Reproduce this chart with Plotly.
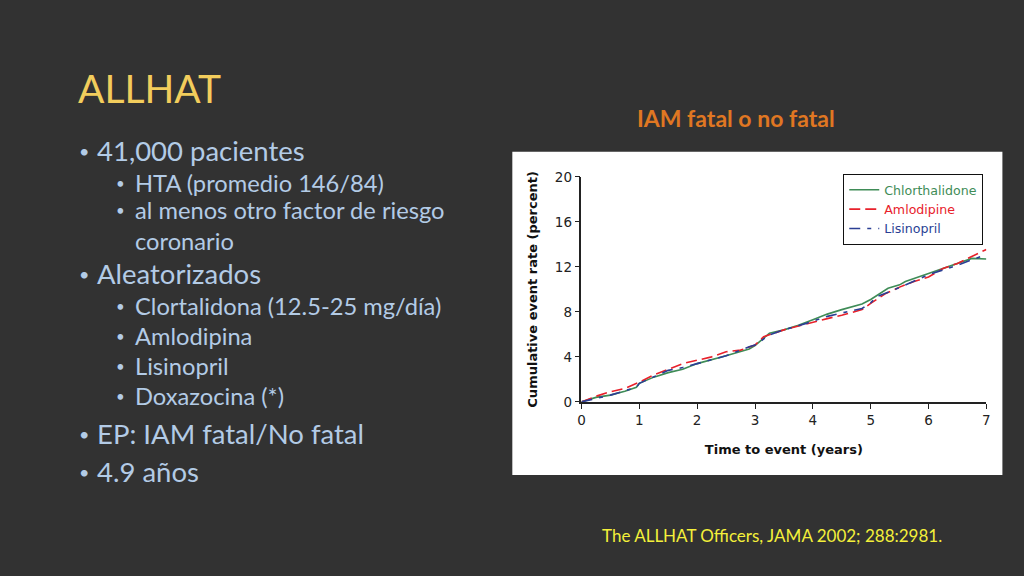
import plotly.graph_objects as go

# ---- data ----
chlor_t = [0, 0.25, 0.5, 0.75, 0.95, 1.0, 1.25, 1.5, 1.75, 2.0, 2.5, 2.9, 3.0, 3.25, 3.5, 3.75,
           4.0, 4.25, 4.5, 4.85, 5.0, 5.3, 5.5, 5.6, 6.0, 6.3, 6.5, 6.75, 7.0]
chlor_v = [0, 0.4, 0.6, 0.95, 1.3, 1.65, 2.2, 2.6, 2.9, 3.4, 4.1, 4.7, 5.0, 6.1, 6.4, 6.8,
           7.3, 7.8, 8.2, 8.7, 9.1, 10.1, 10.4, 10.7, 11.4, 11.95, 12.3, 12.75, 12.7]

amlo_t = [0, 0.25, 0.5, 0.75, 1.0, 1.25, 1.5, 1.75, 2.0, 2.25, 2.5, 2.75, 3.0, 3.15, 3.5,
          4.0, 4.25, 4.5, 4.85, 5.0, 5.25, 5.5, 5.75, 6.0, 6.25, 6.5, 6.75, 7.0]
amlo_v = [0, 0.5, 0.9, 1.2, 1.75, 2.4, 2.9, 3.4, 3.7, 4.0, 4.45, 4.6, 5.05, 5.8, 6.4,
          7.1, 7.4, 7.7, 8.2, 8.75, 9.6, 10.2, 10.7, 11.1, 11.85, 12.3, 12.95, 13.55]

lis_t = [0, 0.5, 0.95, 1.0, 1.5, 1.75, 2.0, 2.5, 2.9, 3.0, 3.25, 3.5, 3.9, 4.25, 4.5,
         4.85, 5.0, 5.1, 5.4, 5.75, 6.0, 6.5, 6.75, 7.0]
lis_v = [0, 0.6, 1.3, 1.65, 2.8, 3.05, 3.4, 4.1, 4.9, 5.05, 5.95, 6.4, 7.0, 7.6, 7.9,
         8.3, 8.8, 9.35, 9.95, 10.7, 11.3, 12.15, 12.6, 13.1]

x_ticks = [0, 1, 2, 3, 4, 5, 6, 7]
y_ticks = [0, 4, 8, 12, 16, 20]

bullets = [
    # (level, text, y px)
    (0, "41,000 pacientes", 150),
    (1, "HTA (promedio 146/84)", 182),
    (1, "al menos otro factor de riesgo<br>coronario", 224.5),
    (0, "Aleatorizados", 273),
    (1, "Clortalidona (12.5-25 mg/día)", 305),
    (1, "Amlodipina", 335),
    (1, "Lisinopril", 365),
    (1, "Doxazocina (*)", 395),
    (0, "EP: IAM fatal/No fatal", 433),
    (0, "4.9 años", 471),
]

W, H = 1024, 576
BG = "#323232"
GREEN = "#3f8c57"
RED = "#e8212b"
BLUE = "#2b3f94"
TEXT_BLUE = "#b3cbe6"
CHART_FONT = "DejaVu Sans"
SLIDE_FONT = "Lato"

# the photographed page comes out slightly squeezed; undo that here
SX, OX = 0.990, 4.8
SY, OY = 0.972, 7.2


def px(x):
    return ((x - OX) / SX) / W


def py(y):
    return 1 - ((y - OY) / SY) / H


def note(text, x, y, size, color, xanchor="left", family=SLIDE_FONT):
    return dict(text=text, x=px(x), y=py(y), xref="paper", yref="paper",
                xanchor=xanchor, yanchor="middle", align="left", showarrow=False, borderpad=0,
                font=dict(family=family, size=size, color=color))


fig = go.Figure()

fig.add_trace(go.Scatter(
    x=chlor_t, y=chlor_v, mode="lines",
    line=dict(color=GREEN, width=1.6),
    name=f"<span style='color:{GREEN}'>Chlorthalidone</span>",
))
fig.add_trace(go.Scatter(
    x=amlo_t, y=amlo_v, mode="lines",
    line=dict(color=RED, width=1.6, dash="11px,5px"),
    name=f"<span style='color:{RED}'>Amlodipine</span>",
))
fig.add_trace(go.Scatter(
    x=lis_t, y=lis_v, mode="lines",
    line=dict(color=BLUE, width=1.6, dash="11px,7px,4px,7px"),
    name=f"<span style='color:{BLUE}'>Lisinopril</span>",
))

# white panel behind the chart
fig.add_shape(type="rect", xref="paper", yref="paper",
              x0=px(512), x1=px(1001), y0=py(474), y1=py(151),
              fillcolor="white", line=dict(width=0), layer="below")

annotations = [note("ALLHAT", 78, 87, 39, "#f2cd5c")]

for level, text, ypos in bullets:
    if level == 0:
        bx, tx, size, bsize = 85, 97, 27.5, 18
    else:
        bx, tx, size, bsize = 121, 135, 23.7, 15
    by = ypos - 15 if "<br>" in text else ypos
    annotations.append(note("•", bx, by, bsize, TEXT_BLUE, xanchor="center"))
    annotations.append(note(text, tx, ypos, size, TEXT_BLUE))

annotations.append(note("<b>IAM fatal o no fatal</b>", 735, 117, 23, "#e07722", xanchor="center"))
annotations.append(note("The ALLHAT Officers, JAMA 2002; 288:2981.", 771, 535, 17, "#f4f03a",
                        xanchor="center"))

fig.update_layout(
    width=W, height=H,
    margin=dict(l=0, r=0, t=0, b=0),
    paper_bgcolor=BG,
    plot_bgcolor="white",
    showlegend=True,
    legend=dict(x=px(842), y=py(173), xanchor="left", yanchor="top",
                bgcolor="white", bordercolor="#111111", borderwidth=1.2,
                font=dict(family=CHART_FONT, size=12.6),
                tracegroupgap=0, itemwidth=30),
    annotations=annotations,
    xaxis=dict(domain=[px(581), px(985)], range=[0, 7], tickvals=x_ticks,
               showgrid=False, zeroline=False, showline=True, linecolor="#222222", linewidth=1.5,
               ticks="outside", ticklen=5, tickcolor="#222222",
               tickfont=dict(family=CHART_FONT, size=13.5, color="#222222"),
               title=dict(text="<b>Time to event (years)</b>", standoff=18,
                          font=dict(family=CHART_FONT, size=13, color="#111111"))),
    yaxis=dict(domain=[py(401), py(176)], range=[0, 20], tickvals=y_ticks,
               showgrid=False, zeroline=False, showline=True, linecolor="#222222", linewidth=1.5,
               ticks="outside", ticklen=5, tickcolor="#222222",
               tickfont=dict(family=CHART_FONT, size=13.5, color="#222222"),
               title=dict(text="<b>Cumulative event rate (percent)</b>", standoff=14,
                          font=dict(family=CHART_FONT, size=13, color="#111111"))),
)

fig.write_html(
    "out.html",
    config={"displayModeBar": False},
    post_script=(
        "document.body.style.margin='0';"
        "document.body.style.background='" + BG + "';"
        "document.documentElement.style.overflow='hidden';"
    ),
)
